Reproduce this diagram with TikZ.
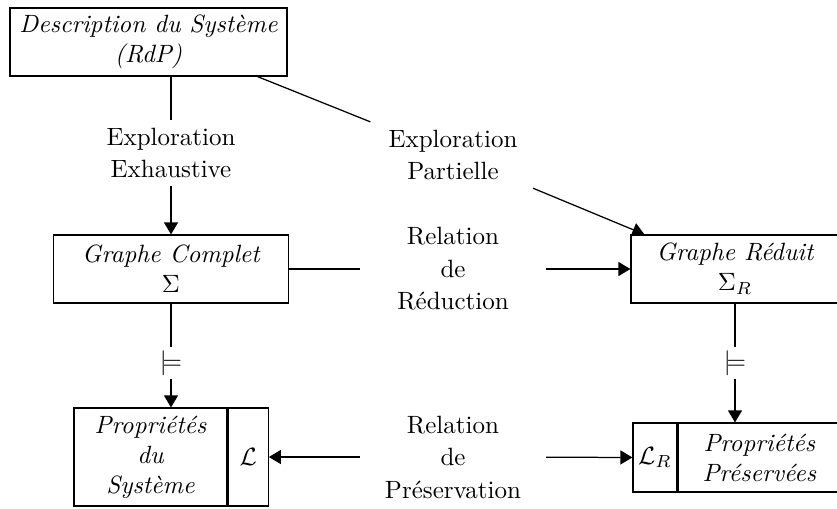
\documentclass[tikz,border=0pt]{standalone}
\usetikzlibrary{arrows.meta,calc,positioning}
\tikzset{every picture/.style={line width=0.5pt}}
\tikzset{
  box/.style={draw, inner sep=0pt, align=center, font=\itshape},
  lbl/.style={align=center, inner sep=3pt, minimum width=74pt, font=\fontsize{10}{13}\selectfont},
  rel/.style={inner sep=1pt},
  tip/.style={-{Triangle[width=5.6pt,length=4.8pt]}},
}

\begin{document}
\begin{tikzpicture}[x=0.4pt,y=0.4pt,yscale=-1,xscale=1]
\useasboundingbox (0,0) rectangle (837,508);

% Shape: Rectangle
\node[box, minimum width=110.8pt, minimum height=27.2pt] (sys) at (148.5,42) {Description du Système\\(RdP)};
\node[box, minimum width=94pt, minimum height=27.2pt] (complet) at (171,269) {Graphe Complet\\$\Sigma$};
\node[box, minimum width=83.2pt, minimum height=27.2pt] (reduit) at (735,269) {Graphe Réduit\\$\Sigma_R$};
\node[box, minimum width=61.2pt, minimum height=39.2pt] (psys) at (150.5,457) {Propriétés\\du\\Système};
\node[box, minimum width=16pt, minimum height=39.2pt, right=0pt of psys] (psysL) {$\mathcal{L}$};
\node[box, minimum width=17.6pt, minimum height=27.6pt] (pprL) at (655,457.5) {$\mathcal{L}_R$};
\node[box, minimum width=64.8pt, minimum height=27.6pt, right=0pt of pprL] (ppres) {Propriétés\\Préservées};

% Straight Lines
\draw[line width=0.8pt, shorten <=1pt, shorten >=1pt] (psys.north east) -- (psys.south east);
\draw[line width=0.8pt, shorten <=1.6pt, shorten >=1.2pt] (pprL.north east) -- (pprL.south east);

% Text Node
\node[lbl] (exh) at (171,153) {Exploration\\Exhaustive};
\node[lbl] (part) at (453,155) {Exploration\\Partielle};
\node[lbl] (red) at (453,269) {Relation\\de\\Réduction};
\node[lbl] (pres) at (453,457) {Relation\\de\\Préservation};
\node[rel] (m1) at (171,363) {$\models$};
\node[rel] (m2) at (735,363) {$\models$};

% Straight Lines
\draw (complet |- sys.south) -- (exh);
\draw[tip] (exh) -- (complet);
\draw ($(sys.south east)+(-30,0)$) -- (part);
\draw[tip] (part) -- ($(reduit.north west)+(14,0)$);
\draw (complet) -- (red);
\draw[tip] (red) -- (reduit);
\draw (complet) -- (m1);
\draw[tip] (m1) -- (m1 |- psys.north);
\draw (reduit) -- (m2);
\draw[tip] (m2) -- (m2 |- ppres.north);
\draw[tip] (pres) -- (psysL);
\draw[tip] (pres) -- (pprL);

\end{tikzpicture}
\end{document}
